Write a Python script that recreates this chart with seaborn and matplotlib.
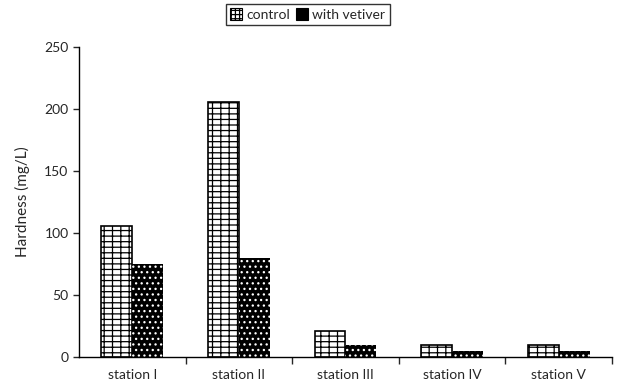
import matplotlib
matplotlib.use("Agg")
import matplotlib.pyplot as plt
import seaborn as sns
import pandas as pd
from matplotlib.patches import Patch

stations = ["station I", "station II", "station III", "station IV", "station V"]
control = [106, 206, 21, 10, 10]
vetiver = [75, 80, 10, 5, 5]
series_names = ["control", "with vetiver"]

sns.set_style("white")
plt.rcParams["font.family"] = ["Lato", "DejaVu Sans"]
plt.rcParams["hatch.linewidth"] = 0.9

df = pd.DataFrame({
    "station": stations * 2,
    "hardness": control + vetiver,
    "series": [series_names[0]] * len(stations) + [series_names[1]] * len(stations),
})

fig = plt.figure(figsize=(6.19, 3.88), dpi=100)
ax = fig.add_axes([0.1276, 0.0799, 0.861, 0.799])

sns.barplot(data=df, x="station", y="hardness", hue="series", order=stations,
            hue_order=series_names, width=0.58, gap=0, ax=ax, legend=False,
            palette=["white", "black"], saturation=1)

n = len(stations)
for i, p in enumerate(ax.patches[:2 * n]):
    if i < n:
        # brick-like fill for the control bars
        p.set_facecolor("white")
        p.set_edgecolor("black")
        p.set_hatch("---||")
        p.set_linewidth(1.2)
    else:
        # black bars speckled with small white dots
        p.set_facecolor("black")
        p.set_edgecolor("white")
        p.set_hatch("...")
        p.set_linewidth(0)

ax.set_xlim(-0.5, n - 0.5)
ax.set_ylim(0, 250)
ax.set_yticks([0, 50, 100, 150, 200, 250])
ax.tick_params(axis="y", labelsize=10, direction="out", length=4, width=1, left=True)
ax.set_xticks(range(n))
ax.set_xticklabels(stations, fontsize=10)
ax.tick_params(axis="x", which="major", length=0, pad=9)
ax.set_xticks([i + 0.5 for i in range(n)], minor=True)
ax.tick_params(axis="x", which="minor", bottom=True, length=5, width=1, direction="out")
ax.set_xlabel("")
ax.set_ylabel("Hardness (mg/L)", fontsize=11, labelpad=10)

for side in ["top", "right"]:
    ax.spines[side].set_visible(False)
for side in ["left", "bottom"]:
    ax.spines[side].set_color("black")
    ax.spines[side].set_linewidth(1)

handles = [
    Patch(facecolor="white", edgecolor="black", hatch="++++", linewidth=0.8),
    Patch(facecolor="black", edgecolor="black", linewidth=0.8),
]
fig.legend(handles, series_names, loc="upper center", bbox_to_anchor=(0.497, 1.0),
           ncol=2, fontsize=10, frameon=True, fancybox=False, edgecolor="black",
           handlelength=0.9, handleheight=0.9, handletextpad=0.3, columnspacing=0.4,
           borderpad=0.3, borderaxespad=0.3)

fig.savefig("out.png", dpi=100)
